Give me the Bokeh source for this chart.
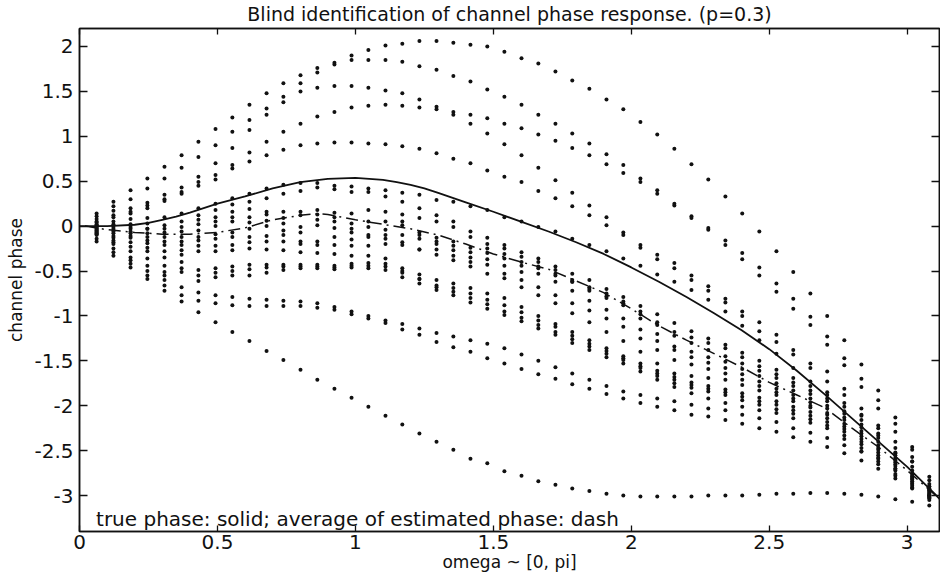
from bokeh.plotting import figure
from bokeh.models import Range1d, LinearAxis, FixedTicker, Label
from bokeh.embed import file_html
from bokeh.resources import INLINE

# ---------------- data ----------------
omega = [0.062, 0.123, 0.185, 0.246, 0.308, 0.370, 0.431, 0.493, 0.554, 0.616,
         0.678, 0.739, 0.801, 0.862, 0.924, 0.986, 1.047, 1.109, 1.170, 1.232,
         1.294, 1.355, 1.417, 1.478, 1.540, 1.602, 1.663, 1.725, 1.786, 1.848,
         1.910, 1.971, 2.033, 2.094, 2.156, 2.218, 2.279, 2.341, 2.402, 2.464,
         2.526, 2.587, 2.649, 2.710, 2.772, 2.834, 2.895, 2.957, 3.018, 3.080]

est_01 = [0.14, 0.27, 0.40, 0.53, 0.66, 0.79, 0.94, 1.08, 1.21, 1.35,
          1.48, 1.59, 1.68, 1.76, 1.82, 1.90, 1.96, 2.01, 2.03, 2.06,
          2.06, 2.04, 2.02, 2.00, 1.94, 1.87, 1.81, 1.72, 1.62, 1.53,
          1.41, 1.30, 1.16, 1.02, 0.86, 0.69, 0.52, 0.33, 0.14, -0.06,
          -0.28, -0.51, -0.75, -1.00, -1.27, -1.54, -1.83, -2.13, -2.46, -2.79]
est_02 = [0.11, 0.22, 0.30, 0.42, 0.53, 0.65, 0.77, 0.90, 1.05, 1.18,
          1.31, 1.44, 1.59, 1.71, 1.80, 1.85, 1.85, 1.85, 1.83, 1.78,
          1.74, 1.67, 1.61, 1.52, 1.44, 1.35, 1.24, 1.14, 1.03, 0.92,
          0.80, 0.68, 0.53, 0.40, 0.25, 0.11, -0.02, -0.16, -0.30, -0.46,
          -0.64, -0.81, -1.01, -1.23, -1.47, -1.70, -1.94, -2.20, -2.49, -2.83]
est_03 = [0.08, 0.17, 0.20, 0.26, 0.35, 0.43, 0.55, 0.70, 0.87, 1.07,
          1.24, 1.38, 1.50, 1.54, 1.56, 1.56, 1.54, 1.51, 1.48, 1.41,
          1.33, 1.27, 1.24, 1.20, 1.14, 1.09, 1.02, 0.95, 0.87, 0.79,
          0.69, 0.59, 0.49, 0.36, 0.23, 0.09, -0.04, -0.21, -0.37, -0.55,
          -0.73, -0.92, -1.10, -1.32, -1.55, -1.79, -2.03, -2.29, -2.57, -2.87]
est_04 = [0.05, 0.12, 0.16, 0.23, 0.30, 0.38, 0.49, 0.57, 0.68, 0.82,
          0.94, 1.05, 1.14, 1.22, 1.27, 1.32, 1.34, 1.35, 1.34, 1.32,
          1.30, 1.24, 1.14, 1.03, 0.91, 0.79, 0.65, 0.51, 0.37, 0.23,
          0.10, -0.07, -0.21, -0.32, -0.41, -0.55, -0.67, -0.81, -0.95, -1.07,
          -1.21, -1.38, -1.53, -1.62, -1.81, -2.03, -2.25, -2.47, -2.62, -2.90]
est_05 = [0.04, 0.10, 0.14, 0.20, 0.28, 0.36, 0.45, 0.52, 0.64, 0.72,
          0.79, 0.85, 0.90, 0.92, 0.93, 0.93, 0.92, 0.91, 0.89, 0.86,
          0.81, 0.75, 0.70, 0.62, 0.55, 0.49, 0.39, 0.31, 0.22, 0.12,
          0.01, -0.10, -0.24, -0.37, -0.47, -0.60, -0.72, -0.85, -1.00, -1.17,
          -1.29, -1.43, -1.58, -1.73, -1.88, -2.11, -2.31, -2.53, -2.68, -2.94]
est_06 = [0.02, 0.05, 0.08, 0.09, 0.10, 0.14, 0.20, 0.25, 0.31, 0.36,
          0.42, 0.46, 0.48, 0.48, 0.45, 0.44, 0.42, 0.40, 0.37, 0.35,
          0.29, 0.27, 0.22, 0.18, 0.10, 0.05, -0.01, -0.06, -0.14, -0.21,
          -0.28, -0.36, -0.44, -0.54, -0.62, -0.71, -0.82, -0.95, -1.11, -1.27,
          -1.42, -1.58, -1.73, -1.85, -1.97, -2.10, -2.22, -2.40, -2.62, -2.90]
est_07 = [0.01, 0.02, 0.02, 0.03, 0.01, 0.05, 0.12, 0.18, 0.24, 0.27,
          0.31, 0.36, 0.39, 0.43, 0.41, 0.38, 0.38, 0.33, 0.27, 0.20,
          0.12, 0.05, -0.06, -0.13, -0.21, -0.29, -0.36, -0.45, -0.53, -0.60,
          -0.70, -0.79, -0.89, -0.98, -1.08, -1.17, -1.25, -1.32, -1.41, -1.50,
          -1.60, -1.69, -1.78, -1.88, -2.01, -2.16, -2.33, -2.52, -2.72, -2.93]
est_08 = [0.00, 0.00, -0.01, -0.03, -0.03, -0.01, 0.07, 0.10, 0.16, 0.19,
          0.16, 0.16, 0.16, 0.18, 0.15, 0.14, 0.18, 0.16, 0.13, 0.09,
          0.05, -0.01, -0.12, -0.20, -0.25, -0.34, -0.40, -0.49, -0.60, -0.68,
          -0.75, -0.84, -0.95, -1.07, -1.18, -1.24, -1.30, -1.36, -1.46, -1.56,
          -1.65, -1.74, -1.83, -1.92, -2.06, -2.21, -2.36, -2.55, -2.75, -2.95]
est_09 = [-0.01, -0.02, -0.03, -0.03, -0.07, -0.06, 0.02, 0.05, 0.10, 0.10,
          0.13, 0.09, 0.12, 0.13, 0.10, 0.03, 0.05, 0.05, 0.05, -0.07,
          -0.13, -0.17, -0.24, -0.25, -0.31, -0.40, -0.45, -0.53, -0.62, -0.70,
          -0.78, -0.86, -0.98, -1.10, -1.22, -1.30, -1.38, -1.45, -1.53, -1.61,
          -1.69, -1.78, -1.87, -1.95, -2.09, -2.24, -2.40, -2.58, -2.77, -2.96]
est_10 = [-0.02, -0.04, -0.06, -0.08, -0.12, -0.12, -0.05, 0.00, 0.05, 0.04,
          0.06, 0.03, -0.01, 0.07, 0.05, -0.03, -0.01, -0.04, 0.01, -0.10,
          -0.17, -0.22, -0.29, -0.30, -0.36, -0.44, -0.47, -0.55, -0.62, -0.72,
          -0.80, -0.88, -1.03, -1.20, -1.34, -1.40, -1.46, -1.51, -1.59, -1.67,
          -1.75, -1.83, -1.92, -2.00, -2.13, -2.28, -2.44, -2.61, -2.79, -2.97]
est_11 = [-0.03, -0.06, -0.08, -0.12, -0.17, -0.17, -0.12, -0.09, -0.07, -0.03,
          0.00, -0.05, -0.07, 0.01, -0.02, -0.07, -0.10, -0.10, -0.10, -0.14,
          -0.20, -0.27, -0.35, -0.37, -0.44, -0.51, -0.53, -0.62, -0.72, -0.83,
          -0.93, -1.03, -1.15, -1.28, -1.38, -1.46, -1.52, -1.58, -1.65, -1.73,
          -1.81, -1.88, -1.96, -2.03, -2.16, -2.31, -2.47, -2.63, -2.81, -2.98]
est_12 = [-0.04, -0.08, -0.11, -0.16, -0.21, -0.21, -0.16, -0.14, -0.12, -0.12,
          -0.11, -0.10, -0.17, -0.17, -0.12, -0.15, -0.12, -0.14, -0.18, -0.26,
          -0.26, -0.33, -0.40, -0.43, -0.53, -0.60, -0.68, -0.77, -0.86, -0.94,
          -1.03, -1.12, -1.25, -1.38, -1.49, -1.54, -1.59, -1.64, -1.71, -1.78,
          -1.85, -1.92, -2.00, -2.08, -2.20, -2.34, -2.49, -2.65, -2.82, -2.99]
est_13 = [-0.05, -0.11, -0.13, -0.19, -0.28, -0.27, -0.22, -0.22, -0.21, -0.18,
          -0.17, -0.17, -0.20, -0.21, -0.21, -0.22, -0.22, -0.20, -0.21, -0.26,
          -0.32, -0.38, -0.45, -0.53, -0.58, -0.68, -0.77, -0.86, -0.97, -1.07,
          -1.18, -1.28, -1.40, -1.53, -1.64, -1.67, -1.69, -1.71, -1.77, -1.83,
          -1.88, -1.95, -2.02, -2.10, -2.23, -2.37, -2.52, -2.67, -2.84, -3.00]
est_14 = [-0.06, -0.13, -0.18, -0.24, -0.35, -0.32, -0.28, -0.28, -0.27, -0.25,
          -0.26, -0.27, -0.29, -0.30, -0.31, -0.33, -0.33, -0.36, -0.47, -0.54,
          -0.60, -0.64, -0.69, -0.75, -0.80, -0.90, -1.00, -1.09, -1.18, -1.27,
          -1.36, -1.45, -1.53, -1.61, -1.68, -1.74, -1.78, -1.82, -1.86, -1.91,
          -1.95, -2.01, -2.07, -2.14, -2.26, -2.40, -2.55, -2.70, -2.86, -3.00]
est_15 = [-0.07, -0.16, -0.23, -0.28, -0.44, -0.40, -0.49, -0.47, -0.45, -0.43,
          -0.43, -0.43, -0.43, -0.43, -0.44, -0.42, -0.41, -0.42, -0.50, -0.59,
          -0.66, -0.69, -0.75, -0.82, -0.88, -0.96, -1.05, -1.12, -1.22, -1.31,
          -1.39, -1.47, -1.56, -1.64, -1.71, -1.77, -1.81, -1.85, -1.90, -1.95,
          -1.99, -2.05, -2.11, -2.18, -2.29, -2.43, -2.58, -2.72, -2.87, -3.01]
est_16 = [-0.08, -0.18, -0.28, -0.36, -0.51, -0.47, -0.55, -0.52, -0.50, -0.48,
          -0.46, -0.45, -0.45, -0.45, -0.46, -0.44, -0.44, -0.45, -0.52, -0.59,
          -0.68, -0.73, -0.80, -0.87, -0.95, -1.02, -1.10, -1.18, -1.26, -1.34,
          -1.42, -1.49, -1.58, -1.67, -1.75, -1.80, -1.84, -1.88, -1.94, -1.99,
          -2.04, -2.09, -2.15, -2.22, -2.33, -2.47, -2.62, -2.76, -2.89, -3.02]
est_17 = [-0.09, -0.20, -0.35, -0.44, -0.55, -0.51, -0.61, -0.57, -0.55, -0.55,
          -0.52, -0.49, -0.47, -0.47, -0.48, -0.46, -0.47, -0.49, -0.57, -0.64,
          -0.71, -0.77, -0.85, -0.92, -0.99, -1.06, -1.14, -1.21, -1.30, -1.38,
          -1.46, -1.53, -1.62, -1.71, -1.79, -1.86, -1.92, -1.97, -2.01, -2.05,
          -2.08, -2.14, -2.19, -2.25, -2.37, -2.51, -2.65, -2.78, -2.91, -3.03]
est_18 = [-0.10, -0.25, -0.38, -0.50, -0.60, -0.68, -0.74, -0.77, -0.79, -0.81,
          -0.82, -0.83, -0.84, -0.86, -0.90, -0.95, -1.00, -1.05, -1.09, -1.14,
          -1.19, -1.23, -1.27, -1.31, -1.36, -1.43, -1.50, -1.57, -1.64, -1.71,
          -1.78, -1.84, -1.88, -1.92, -1.95, -1.99, -2.03, -2.05, -2.10, -2.14,
          -2.18, -2.25, -2.30, -2.36, -2.44, -2.51, -2.59, -2.70, -2.79, -2.92]
est_19 = [-0.14, -0.29, -0.42, -0.55, -0.66, -0.77, -0.83, -0.86, -0.88, -0.89,
          -0.89, -0.89, -0.89, -0.91, -0.93, -0.98, -1.03, -1.08, -1.15, -1.21,
          -1.29, -1.35, -1.40, -1.47, -1.53, -1.59, -1.65, -1.70, -1.76, -1.81,
          -1.87, -1.92, -1.97, -2.01, -2.05, -2.10, -2.12, -2.16, -2.20, -2.25,
          -2.29, -2.35, -2.40, -2.46, -2.53, -2.61, -2.70, -2.81, -2.92, -3.05]
est_20 = [-0.17, -0.33, -0.46, -0.59, -0.72, -0.84, -0.96, -1.07, -1.18, -1.28,
          -1.39, -1.49, -1.60, -1.71, -1.81, -1.91, -2.01, -2.11, -2.21, -2.31,
          -2.40, -2.49, -2.59, -2.64, -2.73, -2.78, -2.84, -2.88, -2.92, -2.95,
          -2.98, -3.00, -3.01, -3.01, -3.01, -3.01, -3.00, -3.00, -3.00, -2.99,
          -2.98, -2.98, -2.97, -2.97, -2.98, -2.99, -3.01, -3.04, -3.07, -3.11]

true_w = [0.0, 0.1, 0.2, 0.25, 0.3, 0.35, 0.4, 0.5, 0.6, 0.7, 0.8, 0.9, 1.0, 1.1,
          1.15, 1.2, 1.25, 1.3, 1.4, 1.5, 1.6, 1.7, 1.8, 1.9, 2.0, 2.1, 2.2, 2.3,
          2.4, 2.5, 2.6, 2.7, 2.8, 2.9, 3.0, 3.1, 3.1416]
true_phase = [0.0, 0.0, 0.015, 0.035, 0.07, 0.105, 0.15, 0.25, 0.33, 0.42, 0.49,
              0.525, 0.538, 0.515, 0.49, 0.46, 0.42, 0.37, 0.265, 0.16, 0.05,
              -0.06, -0.18, -0.31, -0.46, -0.62, -0.79, -0.97, -1.16, -1.37,
              -1.61, -1.87, -2.14, -2.41, -2.68, -2.98, -3.12]

avg_w = [0.02, 0.1, 0.2, 0.3, 0.4, 0.5, 0.6, 0.7, 0.8, 0.86, 0.9, 1.0, 1.1, 1.2,
         1.3, 1.4, 1.5, 1.6, 1.7, 1.8, 1.9, 2.0, 2.1, 2.2, 2.3, 2.4, 2.5, 2.6,
         2.7, 2.8, 2.9, 3.0, 3.1, 3.1416]
avg_phase = [0.0, -0.04, -0.07, -0.09, -0.09, -0.07, -0.02, 0.07, 0.12, 0.138,
             0.13, 0.07, 0.02, -0.03, -0.10, -0.20, -0.31, -0.40, -0.48, -0.61,
             -0.74, -0.92, -1.11, -1.27, -1.42, -1.57, -1.74, -1.88, -2.02,
             -2.25, -2.47, -2.72, -2.99, -3.10]

x_ticks = [0, 0.5, 1, 1.5, 2, 2.5, 3]
x_tick_labels = ["0", "0.5", "1", "1.5", "2", "2.5", "3"]
y_ticks = [-3, -2.5, -2, -1.5, -1, -0.5, 0, 0.5, 1, 1.5, 2]
y_tick_labels = ["-3", "-2.5", "-2", "-1.5", "-1", "-0.5", "0", "0.5", "1", "1.5", "2"]

estimates = [est_01, est_02, est_03, est_04, est_05, est_06, est_07, est_08, est_09, est_10,
             est_11, est_12, est_13, est_14, est_15, est_16, est_17, est_18, est_19, est_20]

FONT = "DejaVu Sans"
INK = "#111111"

p = figure(width=940, height=580, output_backend="svg", toolbar_location=None,
           x_range=Range1d(0, 3.117), y_range=Range1d(-3.4, 2.2),
           min_border_left=79, min_border_right=1, min_border_top=28, min_border_bottom=49,
           background_fill_color="white", border_fill_color="white")
p.xgrid.visible = False
p.ygrid.visible = False
p.outline_line_color = INK
p.outline_line_width = 1.5

p.title.text = "Blind identification of channel phase response. (p=0.3)"
p.title.align = "center"
p.title.vertical_align = "top"
p.title.text_font = FONT
p.title.text_font_size = "19px"
p.title.text_font_style = "normal"
p.title.text_color = INK
p.title.standoff = 4

xt = FixedTicker(ticks=x_ticks)
yt = FixedTicker(ticks=y_ticks)

def style_axis(ax, ticker, labels, ticks, tick_len, show_labels=True):
    ax.ticker = ticker
    ax.major_tick_in = tick_len
    ax.major_tick_out = 0
    ax.minor_tick_line_color = None
    ax.axis_line_color = INK
    ax.axis_line_width = 1.5
    ax.major_tick_line_color = INK
    ax.major_tick_line_width = 1.3
    if show_labels:
        ax.major_label_overrides = {t: s for t, s in zip(ticks, labels)}
        ax.major_label_text_font = FONT
        ax.major_label_text_font_size = "20px"
        ax.major_label_text_color = INK
    else:
        ax.major_label_overrides = {t: "" for t in ticks}
        ax.major_label_text_font_size = "0px"
        ax.major_label_standoff = 0

style_axis(p.xaxis[0], xt, x_tick_labels, x_ticks, 6)
style_axis(p.yaxis[0], yt, y_tick_labels, y_ticks, 8)
p.xaxis[0].major_label_standoff = 3
p.yaxis[0].major_label_standoff = 6
p.xaxis[0].axis_label = "omega ~ [0, pi]"
p.yaxis[0].axis_label = "channel phase"
for ax in (p.xaxis[0], p.yaxis[0]):
    ax.axis_label_text_font = FONT
    ax.axis_label_text_font_size = "17px"
    ax.axis_label_text_font_style = "normal"
    ax.axis_label_text_color = INK
p.xaxis[0].axis_label_standoff = 0
p.yaxis[0].axis_label_standoff = 5

top_ax = LinearAxis()
style_axis(top_ax, xt, x_tick_labels, x_ticks, 6, show_labels=False)
p.add_layout(top_ax, "above")
right_ax = LinearAxis()
style_axis(right_ax, yt, y_tick_labels, y_ticks, 8, show_labels=False)
p.add_layout(right_ax, "right")

# estimated phases (dots)
xs, ys = [], []
for est in estimates:
    xs.extend(omega)
    ys.extend(est)
p.scatter(xs, ys, marker="circle", size=4.0, fill_color=INK, line_color=None)

# true phase (solid) and average of estimates (dash-dot)
p.line(true_w, true_phase, line_color=INK, line_width=1.8)
p.line(avg_w, avg_phase, line_color=INK, line_width=1.5, line_dash="12 5 2 5")

note = Label(x=0.06, y=-3.265, text="true phase: solid; average of estimated phase: dash",
             text_font=FONT, text_font_size="20px", text_color=INK,
             text_baseline="alphabetic")
p.add_layout(note)

open("out.html", "w").write(file_html(p, INLINE))
